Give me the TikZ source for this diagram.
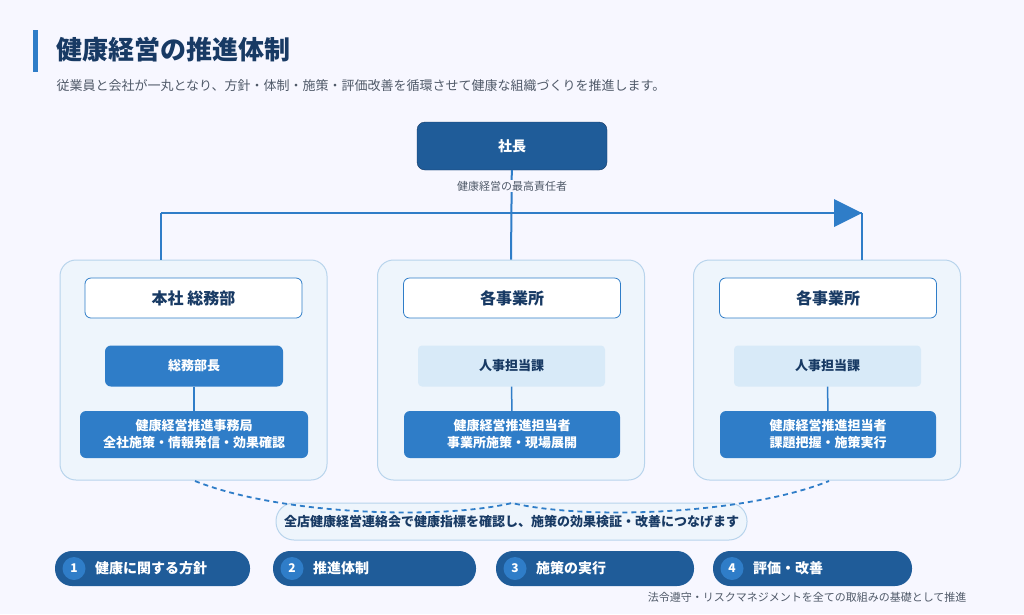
\documentclass[tikz,border=0pt]{standalone}
\usepackage{fontspec}
\setmainfont{Noto Sans CJK JP}
\usetikzlibrary{positioning}
\definecolor{navy}{RGB}{31, 92, 153}
\definecolor{mid}{RGB}{47, 125, 200}
\definecolor{pale}{RGB}{238, 245, 252}
\definecolor{edge}{RGB}{184, 212, 236}
\definecolor{lite}{RGB}{216, 234, 248}
\definecolor{ink}{RGB}{24, 58, 100}
\definecolor{grey}{RGB}{80, 90, 105}
\tikzset{
  panel/.style={rounded corners=16pt, fill=pale, draw=edge, line width=1pt, minimum width=267pt, minimum height=220pt},
  head/.style={rounded corners=6pt, fill=white, draw=mid, line width=0.8pt, minimum width=217pt, minimum height=40pt, font=\fontsize{16}{18}\selectfont\bfseries, text=ink},
  boss/.style={rounded corners=6pt, fill=mid, text=white, minimum width=178pt, minimum height=41pt, font=\fontsize{13}{15}\selectfont\bfseries},
  desk/.style={rounded corners=4pt, fill=lite, text=ink, minimum width=187pt, minimum height=41pt, font=\fontsize{13}{15}\selectfont\bfseries},
  duty/.style={rounded corners=6pt, fill=mid, text=white, minimum height=47pt, align=center, font=\fontsize{13}{17}\selectfont\bfseries},
  link/.style={mid, line width=2pt},
  pill/.style={rounded corners=17pt, fill=navy, minimum height=35pt},
}
\begin{document}
\begin{tikzpicture}[x=1pt, y=-1pt]
\useasboundingbox (0,0) rectangle (1024,614);
\fill[white!97!blue] (0,0) rectangle (1024,614);
% title
\fill[mid] (33,30) rectangle (38,72);
\node (title) [anchor=west, text=ink, font=\fontsize{26}{28}\selectfont\bfseries] at (53,50) {健康経営の推進体制};
\node (sub) [anchor=west, text=grey, font=\fontsize{13}{15}\selectfont] at (53,86) {従業員と会社が一丸となり、方針・体制・施策・評価改善を循環させて健康な組織づくりを推進します。};
% top
\node (ceo) [rounded corners=8pt, fill=navy, draw=ink, text=white, minimum width=190pt, minimum height=48pt, font=\fontsize{14}{16}\selectfont\bfseries] at (512,146) {社長};
\coordinate (lt) at (161,213);
\coordinate (rt) at (862,213);
% panels
\node (p1) [panel] at (193.5,370) {};
\node (p2) [panel] at (511,370) {};
\node (p3) [panel] at (827,370) {};
\draw[link] (ceo) -- (p2.north);
\draw[link] (lt) -- (rt);
\draw[link] (lt) -- (lt |- p1.north);
\draw[link] (rt) -- (rt |- p3.north);
\fill[mid] (rt) -- (834,199) -- (834,227) -- cycle;
\node (cap) [fill=white!97!blue, inner sep=1pt, text=grey, font=\fontsize{11}{13}\selectfont] at (512,186) {健康経営の最高責任者};
\node (h1) [head] at (193.5,298) {本社 総務部};
\node (h2) [head] at (512,298) {各事業所};
\node (h3) [head] at (828,298) {各事業所};
\node (m1) [boss] at (194,366) {総務部長};
\node (m2) [desk] at (511.5,366) {人事担当課};
\node (m3) [desk] at (827.5,366) {人事担当課};
\node (d1) [duty, minimum width=228pt] at (194,434.5) {健康経営推進事務局\\全社施策・情報発信・効果確認};
\node (d2) [duty, minimum width=216pt] at (512,434.5) {健康経営推進担当者\\事業所施策・現場展開};
\node (d3) [duty, minimum width=216pt] at (828,434.5) {健康経営推進担当者\\課題把握・施策実行};
\foreach \i in {1,2,3} \draw[link, line width=1.5pt] (m\i) -- (d\i);
% council
\node (meet) [rounded corners=18pt, fill=pale, draw=edge, line width=1pt, minimum width=471pt, minimum height=37pt, text=ink, font=\fontsize{13}{15}\selectfont\bfseries] at (511.5,521.5) {全店健康経営連絡会で健康指標を確認し、施策の効果検証・改善につなげます};
\coordinate (dl) at (195,481);
\coordinate (dr) at (829,481);
\coordinate (dm) at (512,503);
\draw[mid, line width=1.8pt, dash pattern=on 5pt off 4pt] (dl) .. controls (280,515) and (440,520) .. (dm) .. controls (584,520) and (744,515) .. (dr);
% steps
\foreach \n/\xa/\xb/\t in {1/55/250/健康に関する方針, 2/273/476/推進体制, 3/496/694/施策の実行, 4/713/912/評価・改善} {
  \node (s\n) [pill, minimum width=\xb-\xa] at ({(\xa+\xb)/2},568.5) {};
  \node (c\n) [circle, fill=mid, minimum size=23pt, inner sep=0pt, text=white, font=\fontsize{12}{14}\selectfont\bfseries] at (\xa+19,568.5) {\n};
  \node (t\n) [right=6pt of c\n, text=white, font=\fontsize{14}{16}\selectfont\bfseries] {\t};
}
\node (note) [anchor=east, text=grey, font=\fontsize{11}{13}\selectfont] at (970,597) {法令遵守・リスクマネジメントを全ての取組みの基礎として推進};
\end{tikzpicture}
\end{document}
